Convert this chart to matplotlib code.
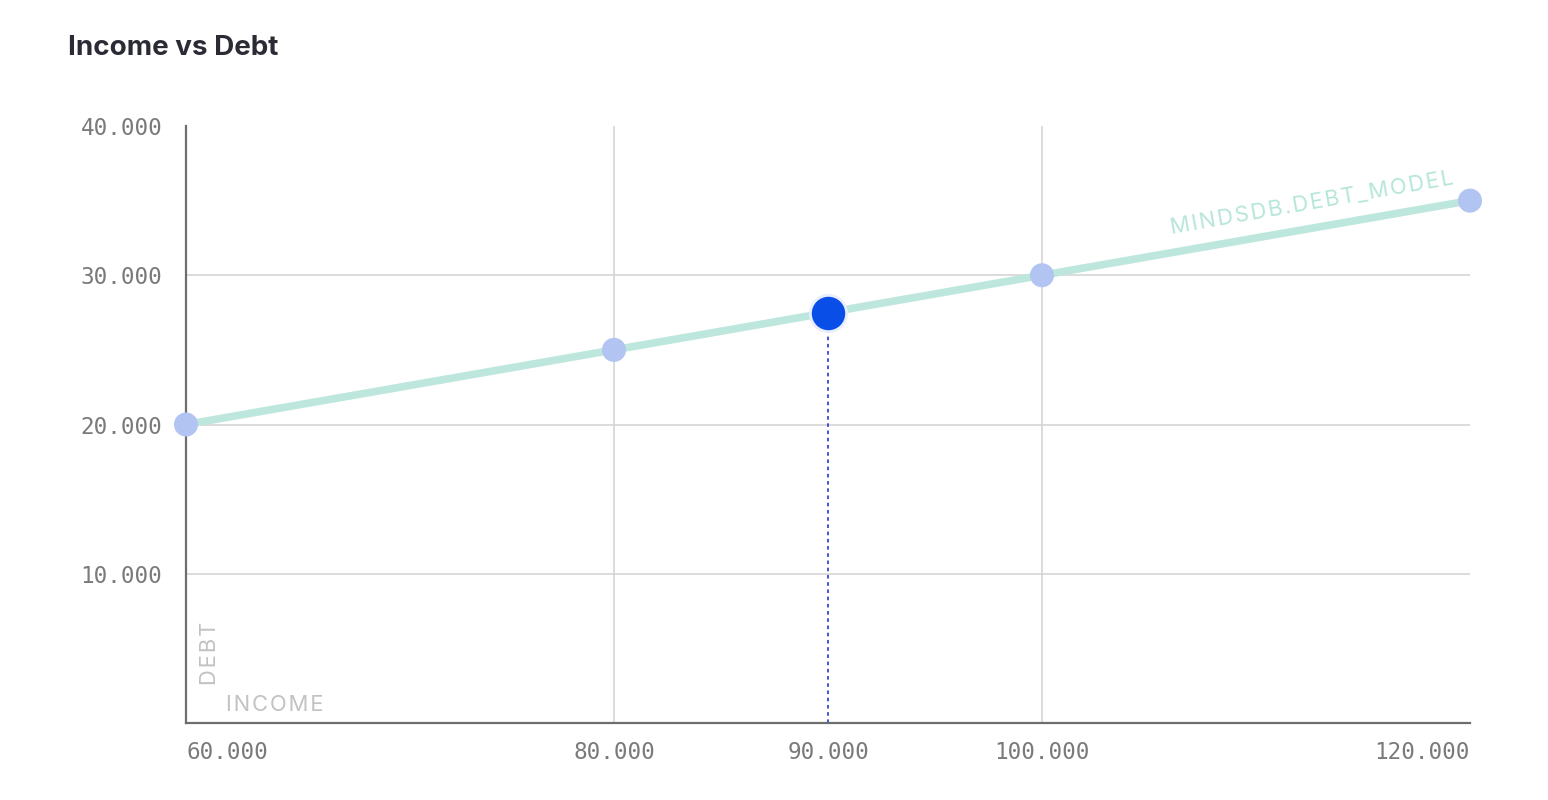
import matplotlib.pyplot as plt
from matplotlib.ticker import FuncFormatter

income = [60000, 80000, 100000, 120000]
debt = [20000, 25000, 30000, 35000]
highlight_income = 90000
highlight_debt = 27500
x_ticks = [60000, 80000, 90000, 100000, 120000]
y_ticks = [10000, 20000, 30000, 40000]
series_name = "MINDSDB.DEBT_MODEL"

LINE = "#bde7dc"
POINT = "#b1c4f2"
HILITE = "#0a4ee8"
AXIS = "#6e6e6e"
GRID = "#d6d6d6"
TICK = "#7a7a7a"
SANS = ["Inter", "DejaVu Sans"]


def spaced(s):
    # fake letter spacing with hair spaces
    return "\u200a".join(s)


fig = plt.figure(figsize=(15.48, 8), dpi=100)
ax = fig.add_axes([186 / 1548, 77 / 800, 1284 / 1548, 597 / 800])

ax.set_xlim(60000, 120000)
ax.set_ylim(0, 40000)

# grid: only horizontal below the top, vertical at inner ticks
for y in y_ticks[:-1]:
    ax.axhline(y, color=GRID, lw=1.2, zorder=0)
for x in (80000, 100000):
    ax.axvline(x, color=GRID, lw=1.2, zorder=0)

ax.plot(income, debt, color=LINE, lw=5.5, solid_capstyle="butt", zorder=2)
ax.scatter(income, debt, s=300, color=POINT, edgecolors="none", zorder=3, clip_on=False)

ax.plot([highlight_income, highlight_income], [0, highlight_debt],
        color="#3346d8", lw=1.3, ls=(0, (2, 2)), zorder=1)
ax.scatter([highlight_income], [highlight_debt], s=680, color=HILITE,
           edgecolors="#e8eefc", linewidths=2, zorder=4)

ax.text(112700, 34150, spaced(series_name), color="#b6e6da",
        fontsize=15.8, family=SANS, rotation=10, rotation_mode="anchor",
        ha="center", va="bottom")

ax.text(0.0185, 0.117, spaced("DEBT"), transform=ax.transAxes, rotation=90,
        color="#c2c2c2", fontsize=15.8, family=SANS, ha="center", va="center")
ax.text(0.031, 0.03, spaced("INCOME"), transform=ax.transAxes,
        color="#c2c2c2", fontsize=15.8, family=SANS, ha="left", va="center")

for side in ("top", "right"):
    ax.spines[side].set_visible(False)
for side in ("left", "bottom"):
    ax.spines[side].set_color(AXIS)
    ax.spines[side].set_linewidth(1.6)

fmt = FuncFormatter(lambda v, _: f"{int(v) // 1000}.000")
ax.set_xticks(x_ticks)
ax.set_yticks(y_ticks)
ax.xaxis.set_major_formatter(fmt)
ax.yaxis.set_major_formatter(fmt)
ax.tick_params(length=0, colors=TICK, labelsize=16.3)
ax.tick_params(axis="y", pad=17)
ax.tick_params(axis="x", pad=13)
for lab in ax.get_xticklabels() + ax.get_yticklabels():
    lab.set_family("DejaVu Sans Mono")
xl = ax.get_xticklabels()
xl[0].set_ha("left")
xl[-1].set_ha("right")

fig.text(68 / 1548, 1 - 48 / 800, "Income vs Debt", family=SANS,
         fontweight="bold", fontsize=20, color="#2b2b36", va="center", ha="left")

fig.savefig("out.png", dpi=100)
